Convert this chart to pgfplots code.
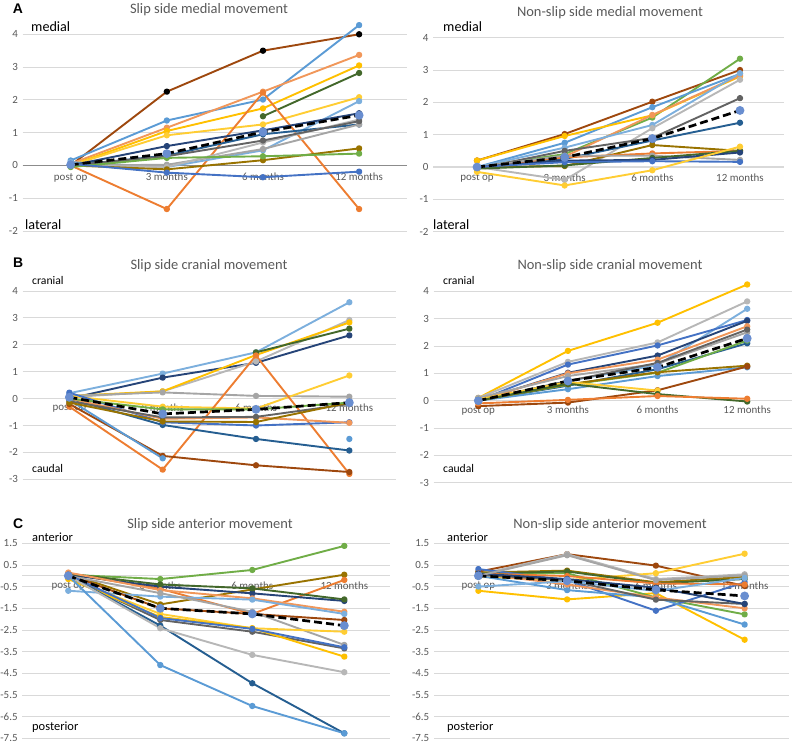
\documentclass[border=0pt]{standalone}
\usepackage{fontspec}
\setmainfont{Carlito}
\newfontfamily\arialf{Liberation Sans}
\usepackage{pgfplots}
\pgfplotsset{compat=1.18}
\definecolor{c1}{HTML}{4472C4}
\definecolor{c2}{HTML}{ED7D31}
\definecolor{c3}{HTML}{A5A5A5}
\definecolor{c4}{HTML}{FFC000}
\definecolor{c5}{HTML}{5B9BD5}
\definecolor{c6}{HTML}{70AD47}
\definecolor{c7}{HTML}{264478}
\definecolor{c8}{HTML}{9E480E}
\definecolor{c9}{HTML}{636363}
\definecolor{c10}{HTML}{997300}
\definecolor{c11}{HTML}{255E91}
\definecolor{c12}{HTML}{43682B}
\definecolor{c13}{HTML}{698ED0}
\definecolor{c14}{HTML}{F1975A}
\definecolor{c15}{HTML}{B7B7B7}
\definecolor{c16}{HTML}{FFCD33}
\definecolor{c17}{HTML}{7CAFDD}
\definecolor{gridc}{HTML}{D9D9D9}
\definecolor{tickc}{HTML}{595959}
\definecolor{zeroc}{HTML}{8C8C8C}
\pgfplotsset{
  ser/.style={color=#1, line width=1.9bp, line join=round, mark=*, mark size=2.2bp, mark options={solid, fill=#1, draw=#1}},
  meanser/.style={color=black, line width=2.7bp, dash pattern=on 8bp off 4bp, mark=*, mark size=3bp, mark options={solid, fill=c13, draw=c13}},
  panel/.style={
    scale only axis, clip=false, anchor=south west,
    xmin=-0.5, xmax=3.5,
    axis line style={draw=none}, tick style={draw=none}, major tick length=0pt,
    ymajorgrids, grid style={draw=gridc, line width=0.8bp},
    xtick={0,1,2,3}, xticklabels={post op,3 months,6 months,12 months},
    tick label style={font=\fontsize{11}{13}\selectfont, text=tickc},
    yticklabel style={inner sep=0pt, xshift=-4.5bp},
    unbounded coords=jump,
    extra y ticks={0}, extra y tick labels={},
  },
  zeroline/.style={extra y tick style={grid=major, major grid style={draw=#1, line width=1.1bp}}},
}
\begin{document}
\begin{tikzpicture}
\useasboundingbox (0,0) rectangle (793bp,746bp);
% ---------------- A left
\begin{axis}[panel, zeroline=zeroc, at={(22.6bp,515bp)}, width=384.6bp, height=196.7bp,
  ymin=-2, ymax=4, ytick={-2,-1,0,1,2,3,4}, yticklabels={-2,-1,0,1,2,3,4},
  xticklabel style={inner sep=0pt, anchor=north, yshift=58bp}]
\addplot[ser=c8, mark options={fill=black, draw=black}] coordinates {(0,0)(1,2.25)(2,3.5)(3,4.0)};
\addplot[ser=c5] coordinates {(0,0.15)(1,1.37)(2,2.01)(3,4.28)};
\addplot[ser=c14] coordinates {(0,0.05)(1,1.15)(2,2.25)(3,3.37)};
\addplot[ser=c4] coordinates {(0,0)(1,1.05)(2,1.74)(3,3.05)};
\addplot[ser=c12] coordinates {(0,nan)(1,nan)(2,1.5)(3,2.82)};
\addplot[ser=c16] coordinates {(0,0)(1,0.92)(2,1.25)(3,2.08)};
\addplot[ser=c2] coordinates {(0,0)(1,-1.33)(2,2.22)(3,-1.33)};
\addplot[ser=c17] coordinates {(0,0.1)(1,-0.05)(2,0.46)(3,1.96)};
\addplot[ser=c7] coordinates {(0,0)(1,0.59)(2,1.07)(3,1.59)};
\addplot[ser=c11] coordinates {(0,0)(1,0.3)(2,0.95)(3,1.25)};
\addplot[ser=c3] coordinates {(0,0)(1,0.02)(2,0.5)(3,1.25)};
\addplot[ser=c15] coordinates {(0,0)(1,-0.05)(2,0.7)(3,1.4)};
\addplot[ser=c9] coordinates {(0,0)(1,0.28)(2,0.76)(3,1.35)};
\addplot[ser=c10] coordinates {(0,0)(1,-0.12)(2,0.16)(3,0.52)};
\addplot[ser=c6] coordinates {(0,-0.05)(1,0.23)(2,0.28)(3,0.36)};
\addplot[ser=c1] coordinates {(0,0.05)(1,-0.22)(2,-0.36)(3,-0.19)};
\addplot[meanser] coordinates {(0,0.02)(1,0.36)(2,1.02)(3,1.53)};
\end{axis}
% ---------------- A right
\begin{axis}[panel, zeroline=gridc, at={(433.2bp,514.3bp)}, width=350.6bp, height=194bp,
  ymin=-2, ymax=4, ytick={-2,-1,0,1,2,3,4}, yticklabels={-2,-1,0,1,2,3,4},
  xticklabel style={inner sep=0pt, anchor=north, yshift=58bp}]
\addplot[ser=c8] coordinates {(0,0.2)(1,1.02)(2,2.02)(3,3.0)};
\addplot[ser=c6] coordinates {(0,0)(1,0.4)(2,1.53)(3,3.35)};
\addplot[ser=c5] coordinates {(0,0)(1,0.75)(2,1.85)(3,2.88)};
\addplot[ser=c4] coordinates {(0,0.2)(1,0.96)(2,1.6)(3,2.8)};
\addplot[ser=c14] coordinates {(0,0)(1,0.32)(2,1.61)(3,2.83)};
\addplot[ser=c17] coordinates {(0,0)(1,0.6)(2,1.3)(3,2.9)};
\addplot[ser=c15] coordinates {(0,0)(1,-0.4)(2,1.2)(3,2.7)};
\addplot[ser=c9] coordinates {(0,-0.05)(1,0.5)(2,0.9)(3,2.13)};
\addplot[ser=c11] coordinates {(0,0)(1,0.25)(2,0.82)(3,1.37)};
\addplot[ser=c10] coordinates {(0,0)(1,0.03)(2,0.68)(3,0.5)};
\addplot[ser=c2] coordinates {(0,0)(1,0.3)(2,0.42)(3,0.5)};
\addplot[ser=c3] coordinates {(0,0)(1,0.35)(2,0.35)(3,0.22)};
\addplot[ser=c12] coordinates {(0,-0.05)(1,0.05)(2,0.28)(3,0.5)};
\addplot[ser=c7] coordinates {(0,0)(1,0.2)(2,0.22)(3,0.45)};
\addplot[ser=c1] coordinates {(0,0)(1,0.15)(2,0.18)(3,0.16)};
\addplot[ser=c16] coordinates {(0,-0.15)(1,-0.57)(2,-0.1)(3,0.63)};
\addplot[meanser] coordinates {(0,0)(1,0.3)(2,0.88)(3,1.75)};
\end{axis}
% ---------------- B left
\begin{axis}[panel, zeroline=gridc, at={(22.7bp,266.7bp)}, width=373.3bp, height=188.3bp,
  ymin=-3, ymax=4, ytick={-3,-2,-1,0,1,2,3,4}, yticklabels={-3,-2,-1,0,1,2,3,4},
  xticklabel style={inner sep=0pt, anchor=north, yshift=76bp}]
\addplot[ser=c17] coordinates {(0,0.2)(1,0.93)(2,1.72)(3,3.58)};
\addplot[ser=c7] coordinates {(0,0)(1,0.78)(2,1.33)(3,2.35)};
\addplot[ser=c15] coordinates {(0,0.05)(1,0.27)(2,1.38)(3,2.92)};
\addplot[ser=c4] coordinates {(0,0.1)(1,0.27)(2,1.62)(3,2.83)};
\addplot[ser=c12] coordinates {(0,nan)(1,nan)(2,1.72)(3,2.6)};
\addplot[ser=c3] coordinates {(0,0.1)(1,0.23)(2,0.1)(3,0.07)};
\addplot[ser=c16] coordinates {(0,0.1)(1,-0.3)(2,-0.37)(3,0.86)};
\addplot[ser=c2] coordinates {(0,-0.3)(1,-2.64)(2,1.6)(3,-2.8)};
\addplot[ser=c8] coordinates {(0,-0.2)(1,-2.13)(2,-2.48)(3,-2.73)};
\addplot[ser=c5] coordinates {(0,-0.05)(1,-2.22)(2,nan)(3,-1.5)};
\addplot[ser=c11] coordinates {(0,0)(1,-0.98)(2,-1.5)(3,-1.93)};
\addplot[ser=c1] coordinates {(0,0.22)(1,-0.88)(2,-1.0)(3,-0.88)};
\addplot[ser=c14] coordinates {(0,0)(1,-0.75)(2,-0.7)(3,-0.9)};
\addplot[ser=c9] coordinates {(0,-0.1)(1,-0.7)(2,-0.68)(3,-0.2)};
\addplot[ser=c10] coordinates {(0,-0.15)(1,-0.85)(2,-0.87)(3,-0.15)};
\addplot[ser=c6] coordinates {(0,0)(1,-0.4)(2,-0.4)(3,-0.15)};
\addplot[meanser] coordinates {(0,0.05)(1,-0.57)(2,-0.4)(3,-0.15)};
\end{axis}
% ---------------- B right
\begin{axis}[panel, zeroline=gridc, at={(433.5bp,263.3bp)}, width=358.5bp, height=191.4bp,
  ymin=-3, ymax=4, ytick={-3,-2,-1,0,1,2,3,4}, yticklabels={-3,-2,-1,0,1,2,3,4},
  xticklabel style={inner sep=0pt, anchor=north, yshift=76.7bp}]
\addplot[ser=c4] coordinates {(0,0.1)(1,1.82)(2,2.85)(3,4.25)};
\addplot[ser=c15] coordinates {(0,0.1)(1,1.42)(2,2.13)(3,3.63)};
\addplot[ser=c17] coordinates {(0,0)(1,0.72)(2,1.3)(3,3.36)};
\addplot[ser=c1] coordinates {(0,0)(1,1.32)(2,2.02)(3,2.95)};
\addplot[ser=c7] coordinates {(0,0)(1,1.02)(2,1.65)(3,2.92)};
\addplot[ser=c14] coordinates {(0,0)(1,1.0)(2,1.5)(3,2.72)};
\addplot[ser=c3] coordinates {(0,0.1)(1,0.9)(2,1.35)(3,2.5)};
\addplot[ser=c9] coordinates {(0,0)(1,0.72)(2,1.38)(3,2.6)};
\addplot[ser=c11] coordinates {(0,0)(1,0.55)(2,1.15)(3,2.1)};
\addplot[ser=c6] coordinates {(0,0)(1,0.58)(2,1.02)(3,2.2)};
\addplot[ser=c5] coordinates {(0,0)(1,0.42)(2,0.9)(3,1.22)};
\addplot[ser=c10] coordinates {(0,0)(1,0.6)(2,1.04)(3,1.28)};
\addplot[ser=c8] coordinates {(0,-0.2)(1,-0.07)(2,0.38)(3,1.25)};
\addplot[ser=c16] coordinates {(0,0.05)(1,0.68)(2,0.37)(3,nan)};
\addplot[ser=c12] coordinates {(0,0)(1,0.62)(2,0.24)(3,-0.03)};
\addplot[ser=c2] coordinates {(0,-0.1)(1,0.03)(2,0.17)(3,0.07)};
\addplot[meanser] coordinates {(0,0)(1,0.72)(2,1.22)(3,2.28)};
\end{axis}
% ---------------- C left
\begin{axis}[panel, zeroline=gridc, at={(22.3bp,7.7bp)}, width=368bp, height=195bp,
  ymin=-7.5, ymax=1.5, ytick={-7.5,-6.5,-5.5,-4.5,-3.5,-2.5,-1.5,-0.5,0.5,1.5},
  yticklabels={-7.5,-6.5,-5.5,-4.5,-3.5,-2.5,-1.5,-0.5,0.5,1.5},
  xticklabel style={inner sep=0pt, anchor=north, yshift=156.5bp}]
\addplot[ser=c6] coordinates {(0,0.05)(1,-0.15)(2,0.27)(3,1.38)};
\addplot[ser=c10] coordinates {(0,0.1)(1,-1.32)(2,-0.63)(3,0.05)};
\addplot[ser=c2] coordinates {(0,0.1)(1,-0.6)(2,-1.76)(3,-0.19)};
\addplot[ser=c7] coordinates {(0,0.05)(1,-0.5)(2,-0.81)(3,-1.16)};
\addplot[ser=c12] coordinates {(0,0.1)(1,-0.4)(2,-0.58)(3,-1.09)};
\addplot[ser=c14] coordinates {(0,0.15)(1,-0.66)(2,-1.04)(3,-1.66)};
\addplot[ser=c17] coordinates {(0,-0.69)(1,-0.96)(2,-1.1)(3,-1.76)};
\addplot[ser=c8] coordinates {(0,0.05)(1,-1.5)(2,-1.76)(3,-2.04)};
\addplot[ser=c3] coordinates {(0,0)(1,-0.8)(2,-1.66)(3,-3.19)};
\addplot[ser=c16] coordinates {(0,-0.1)(1,-1.76)(2,-2.42)(3,-2.58)};
\addplot[ser=c9] coordinates {(0,-0.05)(1,-2.04)(2,-2.58)(3,-3.35)};
\addplot[ser=c4] coordinates {(0,-0.15)(1,-1.9)(2,-2.42)(3,-3.73)};
\addplot[ser=c1] coordinates {(0,0.05)(1,-1.95)(2,-2.45)(3,-3.3)};
\addplot[ser=c11] coordinates {(0,0)(1,-2.3)(2,-4.96)(3,-7.27)};
\addplot[ser=c15] coordinates {(0,0)(1,-2.42)(2,-3.65)(3,-4.45)};
\addplot[ser=c5] coordinates {(0,0)(1,-4.12)(2,-6.01)(3,-7.27)};
\addplot[meanser] coordinates {(0,0)(1,-1.5)(2,-1.76)(3,-2.3)};
\end{axis}
% ---------------- C right
\begin{axis}[panel, zeroline=gridc, at={(434bp,7.7bp)}, width=355bp, height=195bp,
  ymin=-7.5, ymax=1.5, ytick={-7.5,-6.5,-5.5,-4.5,-3.5,-2.5,-1.5,-0.5,0.5,1.5},
  yticklabels={-7.5,-6.5,-5.5,-4.5,-3.5,-2.5,-1.5,-0.5,0.5,1.5},
  xticklabel style={inner sep=0pt, anchor=north, yshift=156.5bp}]
\addplot[ser=c8] coordinates {(0,0.19)(1,1.0)(2,0.47)(3,-0.47)};
\addplot[ser=c15] coordinates {(0,0.05)(1,1.0)(2,-0.15)(3,0.07)};
\addplot[ser=c16] coordinates {(0,-0.05)(1,-0.2)(2,0.12)(3,1.02)};
\addplot[ser=c4] coordinates {(0,-0.69)(1,-1.09)(2,-0.8)(3,-2.95)};
\addplot[ser=c10] coordinates {(0,0.15)(1,0.24)(2,-0.3)(3,-0.05)};
\addplot[ser=c6] coordinates {(0,0.1)(1,0.12)(2,-1.0)(3,-1.78)};
\addplot[ser=c12] coordinates {(0,0.1)(1,0.2)(2,-0.35)(3,-0.15)};
\addplot[ser=c1] coordinates {(0,0.31)(1,-0.2)(2,-1.61)(3,-0.3)};
\addplot[ser=c5] coordinates {(0,0)(1,-0.66)(2,-1.0)(3,-2.25)};
\addplot[ser=c14] coordinates {(0,0.1)(1,-0.4)(2,-1.0)(3,-1.5)};
\addplot[ser=c9] coordinates {(0,0.05)(1,-0.2)(2,-1.1)(3,-1.3)};
\addplot[ser=c2] coordinates {(0,0.1)(1,-0.01)(2,-0.35)(3,-0.4)};
\addplot[ser=c7] coordinates {(0,0.1)(1,-0.15)(2,-0.55)(3,-1.3)};
\addplot[ser=c3] coordinates {(0,0)(1,0.95)(2,-0.2)(3,0.02)};
\addplot[ser=c17] coordinates {(0,-0.5)(1,-0.25)(2,-0.7)(3,-0.1)};
\addplot[meanser] coordinates {(0,0)(1,-0.23)(2,-0.65)(3,-0.93)};
\end{axis}
% ---------------- texts
\begin{scope}[every node/.style={inner sep=0pt}]
\node[anchor=base west, font=\arialf\bfseries\fontsize{14}{16}\selectfont] at (12.7bp,732.7bp) {A};
\node[anchor=base west, font=\arialf\bfseries\fontsize{14}{16}\selectfont] at (13bp,478bp) {B};
\node[anchor=base west, font=\arialf\bfseries\fontsize{14}{16}\selectfont] at (13bp,217bp) {C};
\node[anchor=base, text=tickc, font=\fontsize{14.5}{17}\selectfont] at (209bp,732.7bp) {Slip side medial movement};
\node[anchor=base, text=tickc, font=\fontsize{14.5}{17}\selectfont] at (610bp,729.3bp) {Non-slip side medial movement};
\node[anchor=base, text=tickc, font=\fontsize{14.5}{17}\selectfont] at (209bp,476.7bp) {Slip side cranial movement};
\node[anchor=base, text=tickc, font=\fontsize{14.5}{17}\selectfont] at (610bp,476.7bp) {Non-slip side cranial movement};
\node[anchor=base, text=tickc, font=\fontsize{14.5}{17}\selectfont] at (210bp,217.7bp) {Slip side anterior movement};
\node[anchor=base, text=tickc, font=\fontsize{14.5}{17}\selectfont] at (610bp,217bp) {Non-slip side anterior movement};
\node[anchor=base west, font=\fontsize{14.2}{16}\selectfont] at (31bp,714bp) {medial};
\node[anchor=base west, font=\fontsize{14.2}{16}\selectfont] at (25bp,516bp) {lateral};
\node[anchor=base west, font=\fontsize{14.2}{16}\selectfont] at (443bp,714bp) {medial};
\node[anchor=base west, font=\fontsize{14.2}{16}\selectfont] at (433bp,516bp) {lateral};
\node[anchor=base west, font=\fontsize{11.7}{14}\selectfont] at (32bp,461bp) {cranial};
\node[anchor=base west, font=\fontsize{11.7}{14}\selectfont] at (32bp,273bp) {caudal};
\node[anchor=base west, font=\fontsize{11.7}{14}\selectfont] at (443bp,461bp) {cranial};
\node[anchor=base west, font=\fontsize{11.7}{14}\selectfont] at (443bp,273bp) {caudal};
\node[anchor=base west, font=\fontsize{12.5}{15}\selectfont] at (32bp,204bp) {anterior};
\node[anchor=base west, font=\fontsize{12.5}{15}\selectfont] at (32bp,16bp) {posterior};
\node[anchor=base west, font=\fontsize{12.5}{15}\selectfont] at (447bp,204bp) {anterior};
\node[anchor=base west, font=\fontsize{12.5}{15}\selectfont] at (447bp,16bp) {posterior};
\end{scope}
\end{tikzpicture}
\end{document}
